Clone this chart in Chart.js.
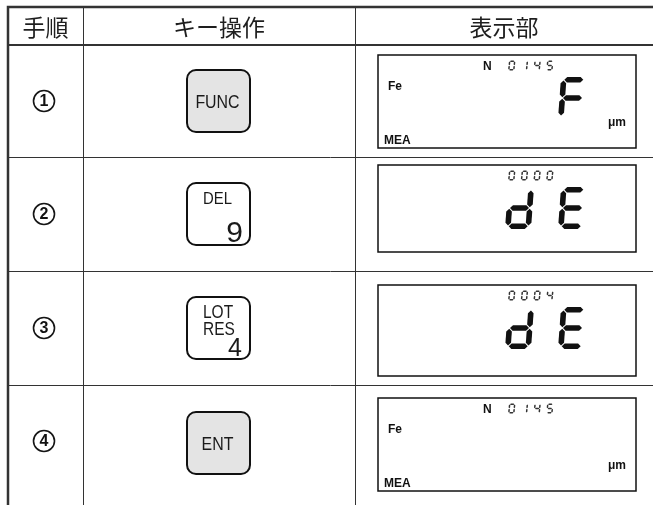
<!DOCTYPE html>
<html>
<head>
<meta charset="utf-8">
<script src="https://cdn.jsdelivr.net/npm/chart.js@4"></script>
<style>
  html, body { margin: 0; padding: 0; background: #fff; }
  canvas { display: block; }
</style>
</head>
<body>
<canvas id="stepChart" width="653" height="505" style="width:653px;height:505px"></canvas>
<script>
// --- table content ---
const headers = ['手順', 'キー操作', '表示部'];
const steps = ['1', '2', '3', '4'];
const keyMain = ['FUNC', '9', '4', 'ENT'];
const keySub = [[], ['DEL'], ['LOT', 'RES'], []];
const keyShaded = [true, false, false, true];
const lcdPrefix = ['N', '', '', 'N'];
const lcdCount = ['0145', '0000', '0004', '0145'];
const lcdMain = [' F', 'dE', 'dE', '  '];
const lcdMaterial = ['Fe', '', '', 'Fe'];
const lcdUnit = ['μm', '', '', 'μm'];
const lcdMode = ['MEA', '', '', 'MEA'];

// --- layout (page units = pixels of the 653x505 picture) ---
const colEdges = [8, 83, 355, 653];
const rowEdges = [7, 45, 157, 271, 385, 501];
const lcdTop = [55, 165, 285, 398];
const lcdHeight = [93, 87, 91, 93];

const SEGS = {
    '0': 'abcdef', '1': 'bc', '4': 'bcfg', '5': 'acdfg', '9': 'abcdfg',
    'd': 'bcdeg', 'E': 'adefg', 'F': 'aefg'
};

function segPolys(w, h, t, g) {
    const hx = (yc, x1, x2) => [[x1, yc], [x1 + t / 2, yc - t / 2], [x2 - t / 2, yc - t / 2], [x2, yc], [x2 - t / 2, yc + t / 2], [x1 + t / 2, yc + t / 2]];
    const vx = (xc, y1, y2) => [[xc, y1], [xc + t / 2, y1 + t / 2], [xc + t / 2, y2 - t / 2], [xc, y2], [xc - t / 2, y2 - t / 2], [xc - t / 2, y1 + t / 2]];
    const L = t / 2, R = w - t / 2, T = t / 2, M = h / 2, B = h - t / 2;
    return {
        a: hx(T, L + g, R - g), g: hx(M, L + g, R - g), d: hx(B, L + g, R - g),
        f: vx(L, T + g, M - g), b: vx(R, T + g, M - g),
        e: vx(L, M + g, B - g), c: vx(R, M + g, B - g)
    };
}

function drawSeg(ctx, ch, x, y, w, h, t, slant, gap) {
    const polys = segPolys(w, h, t, gap);
    for (const s of (SEGS[ch] || '')) {
        ctx.beginPath();
        polys[s].forEach(([px, py], k) => {
            const X = x + px + slant * (1 - py / h);
            const Y = y + py;
            if (k) ctx.lineTo(X, Y); else ctx.moveTo(X, Y);
        });
        ctx.closePath();
        ctx.fill();
    }
}

function condensedText(ctx, str, x, y, font, sx, align) {
    ctx.save();
    ctx.font = font;
    ctx.textAlign = align;
    ctx.translate(x, y);
    ctx.scale(sx, 1);
    ctx.fillText(str, 0, 0);
    ctx.restore();
}

const rowMid = i => (rowEdges[i + 1] + rowEdges[i + 2]) / 2;
const stepY = i => i === 3 ? rowMid(i) - 2 : rowMid(i);

const tablePlugin = {
    id: 'stepTable',
    beforeDatasetsDraw(chart) {
        const { ctx, scales: { x, y } } = chart;
        const X = v => x.getPixelForValue(v);
        const Y = v => y.getPixelForValue(v);
        ctx.save();
        ctx.strokeStyle = '#333';
        // inner row lines
        ctx.lineWidth = 1;
        rowEdges.slice(2, 5).forEach(r => {
            ctx.beginPath();
            ctx.moveTo(X(colEdges[0]), Math.round(Y(r)) + 0.5);
            ctx.lineTo(X(colEdges[3]), Math.round(Y(r)) + 0.5);
            ctx.stroke();
        });
        // column lines
        colEdges.slice(1, 3).forEach(c => {
            ctx.beginPath();
            ctx.moveTo(Math.round(X(c)) + 0.5, Y(rowEdges[0]));
            ctx.lineTo(Math.round(X(c)) + 0.5, Y(505));
            ctx.stroke();
        });
        // header bottom
        ctx.lineWidth = 2;
        ctx.beginPath();
        ctx.moveTo(X(colEdges[0]), Y(rowEdges[1]));
        ctx.lineTo(X(colEdges[3]), Y(rowEdges[1]));
        ctx.stroke();
        // outer frame (top + left)
        ctx.lineWidth = 2.5;
        ctx.beginPath();
        ctx.moveTo(X(colEdges[3]), Y(rowEdges[0]));
        ctx.lineTo(X(colEdges[0]), Y(rowEdges[0]));
        ctx.lineTo(X(colEdges[0]), Y(505));
        ctx.stroke();

        // header texts
        ctx.fillStyle = '#1e1e1e';
        ctx.font = '23px "Noto Sans CJK JP"';
        ctx.textAlign = 'center';
        ctx.textBaseline = 'middle';
        headers.forEach((h, i) => {
            ctx.fillText(h, X((colEdges[i] + colEdges[i + 1]) / 2), Y((rowEdges[0] + rowEdges[1]) / 2) + 1);
        });
        ctx.restore();
    },
    afterDatasetsDraw(chart) {
        const { ctx, scales: { x, y } } = chart;
        const X = v => x.getPixelForValue(v);
        const Y = v => y.getPixelForValue(v);
        ctx.save();

        // step numbers inside the circles
        ctx.fillStyle = '#111';
        ctx.font = 'bold 16px "Liberation Sans"';
        ctx.textAlign = 'center';
        ctx.textBaseline = 'middle';
        steps.forEach((s, i) => {
            ctx.fillText(s, X(44), Y(stepY(i)) + 1);
        });

        // keys
        steps.forEach((s, i) => {
            const cx = X(218.5), cy = Y(rowMid(i));
            const kw = 63, kh = 62;
            const kx = cx - kw / 2, ky = cy - kh / 2;
            ctx.beginPath();
            ctx.roundRect(kx, ky, kw, kh, 9);
            ctx.fillStyle = keyShaded[i] ? '#e4e4e4' : '#fff';
            ctx.fill();
            ctx.lineWidth = 2;
            ctx.strokeStyle = '#111';
            ctx.stroke();
            ctx.fillStyle = '#1a1a1a';
            ctx.textBaseline = 'alphabetic';
            if (keySub[i].length === 0) {
                condensedText(ctx, keyMain[i], cx - 1, cy + 6.5, '18.5px "Liberation Sans"', 0.86, 'center');
            } else if (keySub[i].length === 1) {
                condensedText(ctx, keySub[i][0], kx + 16, ky + 21, '16px "Liberation Sans"', 0.93, 'left');
                ctx.font = '30px "Liberation Sans"';
                ctx.textAlign = 'right';
                ctx.fillText(keyMain[i], kx + kw - 7, ky + kh - 3);
            } else {
                keySub[i].forEach((t, k) => {
                    condensedText(ctx, t, kx + 16, ky + 21 + k * 17, '18px "Liberation Sans"', 0.86, 'left');
                });
                ctx.font = '25px "Liberation Sans"';
                ctx.textAlign = 'right';
                ctx.fillText(keyMain[i], kx + kw - 8, ky + kh - 3);
            }
        });

        // LCD panels
        steps.forEach((s, i) => {
            const bx = X(378), by = Y(lcdTop[i]);
            const bw = X(636) - bx, bh = lcdHeight[i];
            ctx.lineWidth = 1.5;
            ctx.strokeStyle = '#111';
            ctx.strokeRect(bx, by, bw, bh);
            ctx.fillStyle = '#111';
            ctx.textAlign = 'left';
            ctx.textBaseline = 'alphabetic';
            ctx.font = 'bold 12px "Liberation Sans"';
            if (lcdPrefix[i]) ctx.fillText(lcdPrefix[i], bx + 105, by + 14.5);
            if (lcdMaterial[i]) ctx.fillText(lcdMaterial[i], bx + 10, by + 34.5);
            if (lcdUnit[i]) ctx.fillText(lcdUnit[i], bx + 230, by + 71);
            if (lcdMode[i]) ctx.fillText(lcdMode[i], bx + 6, by + 89);

            // small counter digits
            ctx.fillStyle = '#333';
            [...lcdCount[i]].forEach((ch, k) => {
                drawSeg(ctx, ch, bx + 130 + k * 12.7, by + 5.5, 6.5, 10, 1.5, 1, 0.35);
            });
            // large segment characters
            ctx.fillStyle = '#111';
            [...lcdMain[i]].forEach((ch, k) => {
                drawSeg(ctx, ch, bx + 127 + k * 53, by + 22, 26, 42, 5.6, 3, 0.7);
            });
        });
        ctx.restore();
    }
};

const ctx = document.getElementById('stepChart').getContext('2d');
const stepChart = new Chart(ctx, {
    type: 'scatter',
    data: {
        datasets: [{
            label: '手順',
            data: steps.map((s, i) => ({ x: 44, y: stepY(i) })),
            pointRadius: 10.5,
            pointBorderWidth: 1.6,
            borderColor: '#151515',
            backgroundColor: '#fff',
            pointHoverRadius: 10.5
        }]
    },
    options: {
        responsive: false,
        animation: false,
        devicePixelRatio: 1,
        layout: { padding: 0, autoPadding: false },
        events: [],
        plugins: {
            legend: { display: false },
            tooltip: { enabled: false }
        },
        scales: {
            x: { type: 'linear', min: 0, max: 653, display: false },
            y: { type: 'linear', min: 0, max: 505, reverse: true, display: false }
        }
    },
    plugins: [tablePlugin]
});
</script>
</body>
</html>
